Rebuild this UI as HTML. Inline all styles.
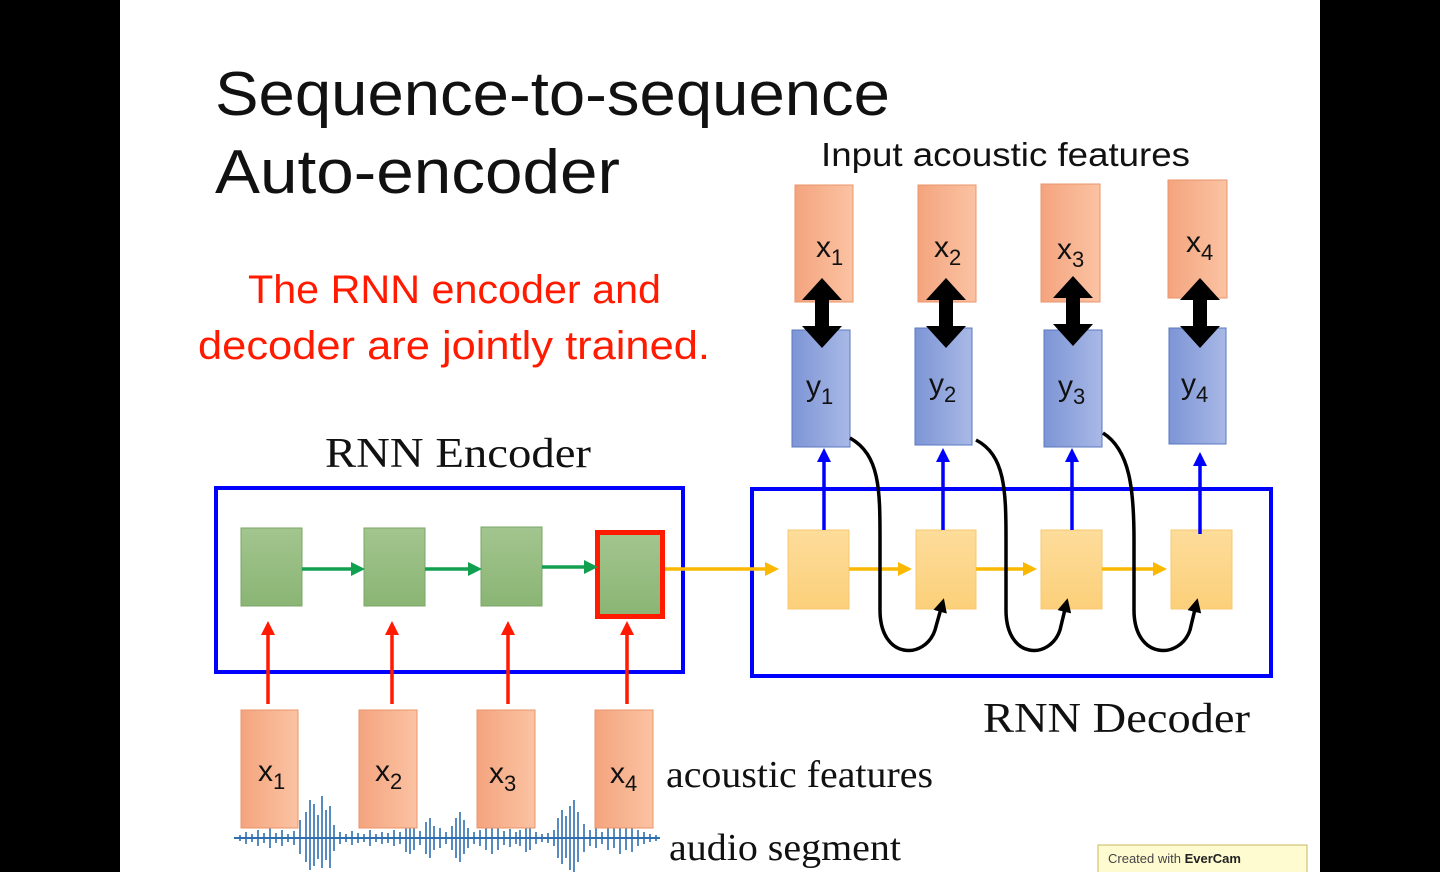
<!DOCTYPE html>
<html><head><meta charset="utf-8"><style>
html,body{margin:0;padding:0;background:#000;}
svg{display:block}
</style></head><body>
<svg width="1440" height="872" viewBox="0 0 1440 872" xmlns="http://www.w3.org/2000/svg">
<defs>
<linearGradient id="or" x1="0" x2="1"><stop offset="0" stop-color="#f4a47e"/><stop offset="1" stop-color="#fbc3a3"/></linearGradient>
<linearGradient id="bl" x1="0" x2="1"><stop offset="0" stop-color="#7d95d6"/><stop offset="1" stop-color="#a9b9e6"/></linearGradient>
<linearGradient id="gr" x1="0" y1="0" x2="0" y2="1"><stop offset="0" stop-color="#a3c58f"/><stop offset="1" stop-color="#8ab574"/></linearGradient>
<linearGradient id="ye" x1="0" y1="0" x2="0" y2="1"><stop offset="0" stop-color="#fddc9a"/><stop offset="1" stop-color="#fcd07a"/></linearGradient>
<marker id="ab" markerWidth="4" markerHeight="4" refX="2" refY="2" orient="auto" markerUnits="strokeWidth"><path d="M0,0L4,2L0,4z" fill="#0000ff"/></marker>
<marker id="ar" markerWidth="4" markerHeight="4" refX="2" refY="2" orient="auto" markerUnits="strokeWidth"><path d="M0,0L4,2L0,4z" fill="#ff1a00"/></marker>
<marker id="ag" markerWidth="4" markerHeight="4" refX="2" refY="2" orient="auto" markerUnits="strokeWidth"><path d="M0,0L4,2L0,4z" fill="#10a050"/></marker>
<marker id="ay" markerWidth="4" markerHeight="4" refX="2" refY="2" orient="auto" markerUnits="strokeWidth"><path d="M0,0L4,2L0,4z" fill="#fbb800"/></marker>
<marker id="ak" markerWidth="4" markerHeight="4" refX="2" refY="2" orient="auto" markerUnits="strokeWidth"><path d="M0,0L4,2L0,4z" fill="#000"/></marker>
</defs>
<rect x="120" y="0" width="1200" height="872" fill="#fff"/>
<g font-family="Liberation Sans, sans-serif">
<text x="215" y="115" font-size="62" textLength="675" lengthAdjust="spacingAndGlyphs" fill="#111">Sequence-to-sequence</text>
<text x="215" y="193" font-size="62" textLength="405" lengthAdjust="spacingAndGlyphs" fill="#111">Auto-encoder</text>
<text x="821" y="166" font-size="33" textLength="369" lengthAdjust="spacingAndGlyphs" fill="#111">Input acoustic features</text>
<text x="248" y="303" font-size="40" textLength="413" lengthAdjust="spacingAndGlyphs" fill="#ff1a00">The RNN encoder and</text>
<text x="198" y="359" font-size="40" textLength="512" lengthAdjust="spacingAndGlyphs" fill="#ff1a00">decoder are jointly trained.</text>
</g>
<g font-family="Liberation Serif, serif" fill="#111">
<text x="325" y="467" font-size="42" textLength="266" lengthAdjust="spacingAndGlyphs">RNN Encoder</text>
<text x="983" y="732" font-size="42" textLength="267" lengthAdjust="spacingAndGlyphs">RNN Decoder</text>
<text x="666" y="787" font-size="38" textLength="267" lengthAdjust="spacingAndGlyphs">acoustic features</text>
<text x="669" y="860" font-size="38" textLength="232" lengthAdjust="spacingAndGlyphs">audio segment</text>
</g>
<!-- top orange boxes -->
<g stroke="#e9956a" stroke-width="1" fill="url(#or)">
<rect x="795" y="185" width="58" height="117"/><rect x="918" y="185" width="58" height="117"/>
<rect x="1041" y="184" width="59" height="118"/><rect x="1168" y="180" width="59" height="118"/>
</g>
<g stroke="#5a78c0" stroke-width="1" fill="url(#bl)">
<rect x="792" y="330" width="58" height="117"/><rect x="915" y="328" width="57" height="117"/>
<rect x="1044" y="330" width="58" height="117"/><rect x="1169" y="328" width="57" height="116"/>
</g>
<g font-family="Liberation Sans, sans-serif" font-size="30" fill="#111">
<text x="816" y="257">x<tspan font-size="22" dy="8">1</tspan></text>
<text x="934" y="257">x<tspan font-size="22" dy="8">2</tspan></text>
<text x="1057" y="259">x<tspan font-size="22" dy="8">3</tspan></text>
<text x="1186" y="252">x<tspan font-size="22" dy="8">4</tspan></text>
<text x="806" y="396">y<tspan font-size="22" dy="8">1</tspan></text>
<text x="929" y="394">y<tspan font-size="22" dy="8">2</tspan></text>
<text x="1058" y="396">y<tspan font-size="22" dy="8">3</tspan></text>
<text x="1181" y="394">y<tspan font-size="22" dy="8">4</tspan></text>
<text x="258" y="781">x<tspan font-size="22" dy="8">1</tspan></text>
<text x="375" y="781">x<tspan font-size="22" dy="8">2</tspan></text>
<text x="489" y="783">x<tspan font-size="22" dy="8">3</tspan></text>
<text x="610" y="783">x<tspan font-size="22" dy="8">4</tspan></text>
</g>
<!-- double arrows -->
<g fill="#000">
<path d="M822,278 l-20,22 h13 v26 h-13 l20,22 l20,-22 h-13 v-26 h13z"/>
<path d="M946,278 l-20,22 h13 v26 h-13 l20,22 l20,-22 h-13 v-26 h13z"/>
<path d="M1073,276 l-20,22 h13 v26 h-13 l20,22 l20,-22 h-13 v-26 h13z"/>
<path d="M1200,278 l-20,22 h13 v26 h-13 l20,22 l20,-22 h-13 v-26 h13z"/>
</g>
<!-- encoder -->
<rect x="216" y="488" width="467" height="184" fill="none" stroke="#0000ff" stroke-width="4"/>
<g fill="url(#gr)" stroke="#7aa566">
<rect x="241" y="528" width="61" height="78"/><rect x="364" y="528" width="61" height="78"/>
<rect x="481" y="527" width="61" height="79"/><rect x="599" y="533" width="62" height="82"/>
</g>
<rect x="597.5" y="532.5" width="65" height="84" fill="none" stroke="#ff1a00" stroke-width="5"/>
<g stroke="#10a050" stroke-width="3.5">
<line x1="302" y1="569" x2="358" y2="569" marker-end="url(#ag)"/>
<line x1="425" y1="569" x2="475" y2="569" marker-end="url(#ag)"/>
<line x1="542" y1="567" x2="591" y2="567" marker-end="url(#ag)"/>
</g>
<g stroke="#ff1a00" stroke-width="3.5">
<line x1="268" y1="704" x2="268" y2="628" marker-end="url(#ar)"/>
<line x1="392" y1="704" x2="392" y2="628" marker-end="url(#ar)"/>
<line x1="508" y1="704" x2="508" y2="628" marker-end="url(#ar)"/>
<line x1="627" y1="704" x2="627" y2="628" marker-end="url(#ar)"/>
</g>
<!-- decoder -->
<rect x="752" y="489" width="519" height="187" fill="none" stroke="#0000ff" stroke-width="4"/>
<g fill="url(#ye)" stroke="#f6c870">
<rect x="788" y="530" width="61" height="79"/><rect x="916" y="530" width="60" height="79"/>
<rect x="1041" y="530" width="61" height="79"/><rect x="1171" y="530" width="61" height="79"/>
</g>
<g stroke="#fbb800" stroke-width="3.5">
<line x1="665" y1="569" x2="772" y2="569" marker-end="url(#ay)"/>
<line x1="849" y1="569" x2="905" y2="569" marker-end="url(#ay)"/>
<line x1="976" y1="569" x2="1030" y2="569" marker-end="url(#ay)"/>
<line x1="1102" y1="569" x2="1160" y2="569" marker-end="url(#ay)"/>
</g>
<g stroke="#0000ff" stroke-width="3.5">
<line x1="824" y1="530" x2="824" y2="455" marker-end="url(#ab)"/>
<line x1="943" y1="530" x2="943" y2="455" marker-end="url(#ab)"/>
<line x1="1072" y1="530" x2="1072" y2="455" marker-end="url(#ab)"/>
<line x1="1200" y1="534" x2="1200" y2="459" marker-end="url(#ab)"/>
</g>
<g fill="none" stroke="#000" stroke-width="3.5">
<path d="M850,438 C880,455 880,490 880,540 L880,610 C880,660 925,660 935,630 L942,605" marker-end="url(#ak)"/>
<path d="M976,440 C1005,455 1006,490 1006,540 L1006,610 C1006,660 1050,660 1060,630 L1066,605" marker-end="url(#ak)"/>
<path d="M1103,433 C1130,450 1134,490 1134,540 L1134,610 C1134,660 1180,660 1190,630 L1196,605" marker-end="url(#ak)"/>
</g>
<!-- waveform -->
<path d="M234,838 H660" stroke="#2f6fb0" stroke-width="2"/>
<g stroke="#2f6fb0" stroke-width="1.6">
<path d="M240,835v6M246,832v12M252,834v8M258,830v16M264,833v10M270,828v20M276,833v10M282,830v16M288,834v8M294,831v14M300,820v34M306,812v50M310,800v70M314,804v62M318,815v44M322,796v72M326,810v50M330,806v62M334,825v26M340,832v12M346,834v8M352,831v14M358,833v10M364,834v8M370,830v16M376,834v8M382,832v12M388,833v10M394,830v16M400,832v12M406,824v28M410,820v34M414,826v24M420,831v14M426,822v32M430,818v40M434,826v24M440,828v20M446,832v12M452,826v24M456,818v40M460,812v50M464,820v34M468,828v20M474,832v12M480,830v16M486,826v24M492,820v34M498,826v24M504,831v14M510,829v18M516,832v12M520,830v16M526,824v28M530,826v24M536,832v12M542,834v8M548,833v10M554,830v16M558,818v40M562,810v54M566,816v42M570,806v64M574,800v72M578,812v50M584,824v28M590,830v16M596,828v20M602,832v12M608,826v24M614,828v20M620,822v32M626,826v24M632,824v28M638,830v16M644,832v12M650,834v8M656,835v6"/>
</g>
<g stroke="#e9956a" fill="url(#or)">
<rect x="241" y="710" width="57" height="118"/><rect x="359" y="710" width="58" height="118"/>
<rect x="477" y="710" width="58" height="118"/><rect x="595" y="710" width="58" height="118"/>
</g>
<g font-family="Liberation Sans, sans-serif" font-size="30" fill="#111">
<text x="258" y="781">x<tspan font-size="22" dy="8">1</tspan></text>
<text x="375" y="781">x<tspan font-size="22" dy="8">2</tspan></text>
<text x="489" y="783">x<tspan font-size="22" dy="8">3</tspan></text>
<text x="610" y="783">x<tspan font-size="22" dy="8">4</tspan></text>
</g>
<!-- watermark -->
<rect x="1098" y="845" width="209" height="30" fill="#fffbd0" stroke="#c8b860"/>
<text x="1108" y="863" font-family="Liberation Sans, sans-serif" font-size="13" fill="#444">Created with <tspan font-weight="bold" fill="#222">EverCam</tspan></text>
</svg>
</body></html>
